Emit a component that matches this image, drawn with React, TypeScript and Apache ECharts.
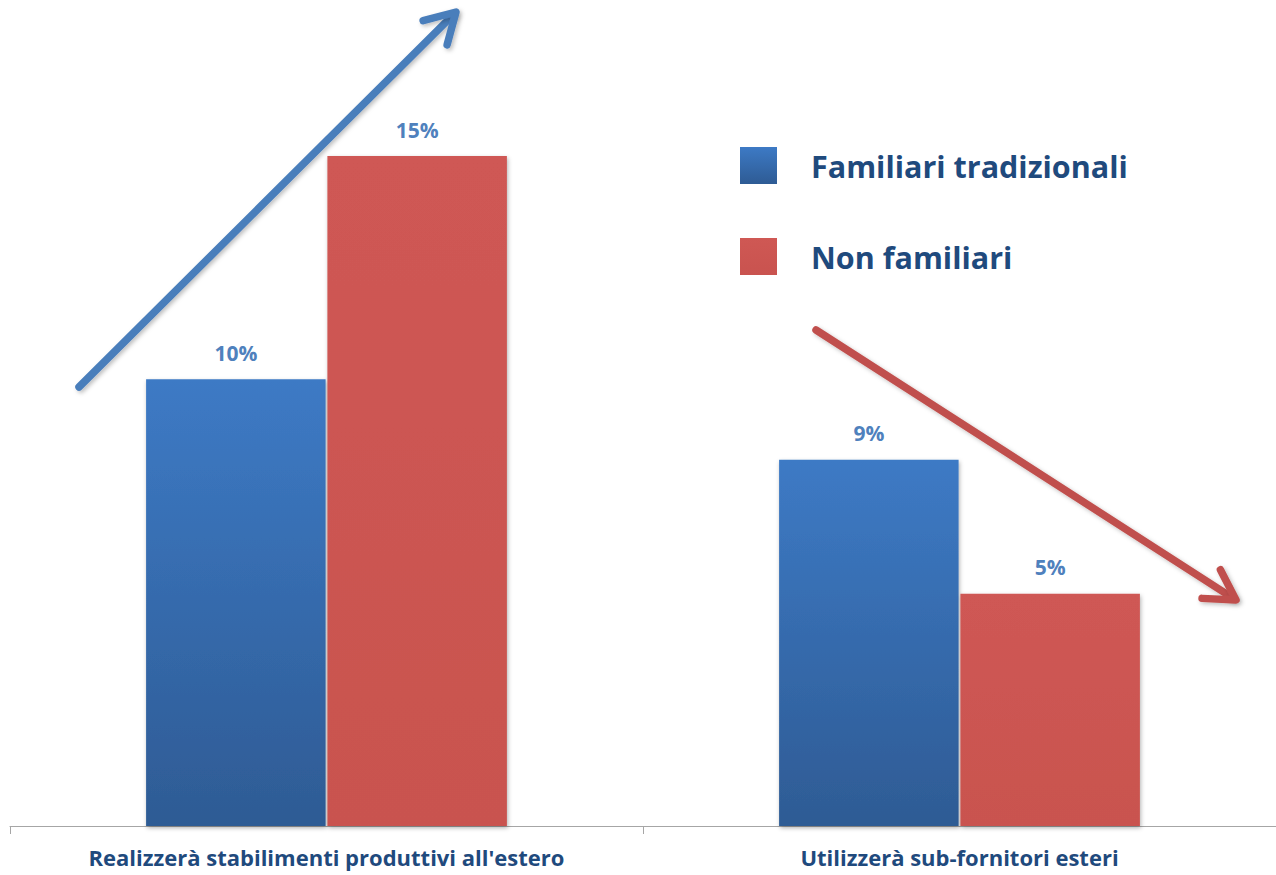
import React, { useEffect, useRef } from "react";
import * as echarts from "echarts";

const categories = ["Realizzerà stabilimenti produttivi all'estero", "Utilizzerà sub-fornitori esteri"];
const seriesNames = ["Familiari tradizionali", "Non familiari"];
const familiariValues = [10, 8.2];
const nonFamiliariValues = [15, 5.2];
const familiariLabels = ["10%", "9%"];
const nonFamiliariLabels = ["15%", "5%"];

function arrowGraphics(x1: number, y1: number, x2: number, y2: number, color: string) {
  const dx = x2 - x1;
  const dy = y2 - y1;
  const len = Math.sqrt(dx * dx + dy * dy);
  const ux = dx / len;
  const uy = dy / len;
  const headLen = 34;
  const ang = (30 * Math.PI) / 180;
  const rot = (a: number) => {
    const bx = -ux, by = -uy;
    return [bx * Math.cos(a) - by * Math.sin(a), bx * Math.sin(a) + by * Math.cos(a)];
  };
  const a1 = rot(ang);
  const a2 = rot(-ang);
  const style = { stroke: color, lineWidth: 7.5, lineCap: "round", lineJoin: "round", fill: null, shadowBlur: 4, shadowColor: "rgba(0,0,0,0.25)", shadowOffsetX: 2, shadowOffsetY: 2 };
  return [
    { type: "line", shape: { x1, y1, x2: x2 - ux * 4, y2: y2 - uy * 4 }, style, z: 10 },
    {
      type: "polyline",
      shape: { points: [[x2 + a1[0] * headLen, y2 + a1[1] * headLen], [x2, y2], [x2 + a2[0] * headLen, y2 + a2[1] * headLen]] },
      style,
      z: 10,
    },
  ];
}

export default function App() {
  const ref = useRef<HTMLDivElement>(null);
  useEffect(() => {
    if (!ref.current) return;
    const chart = echarts.init(ref.current, null, { renderer: "svg" });
    const font = "'Open Sans', Lato, sans-serif";
    const labelStyle = {
      show: true,
      position: "top",
      distance: 16,
      fontFamily: font,
      fontSize: 21,
      fontWeight: "bold",
      color: "#4f81bd",
    };
    chart.setOption({
      animation: false,
      backgroundColor: "#ffffff",
      grid: { left: 10, width: 1282, top: 156, bottom: 49, containLabel: false },
      legend: {
        orient: "vertical",
        left: 735,
        top: 142,
        itemWidth: 37,
        itemHeight: 37,
        itemGap: 54,
        icon: "rect",
        textStyle: { fontFamily: font, fontSize: 30.5, fontWeight: "bold", color: "#1f4a7d", padding: [0, 0, 0, 29] },
        data: seriesNames,
      },
      xAxis: {
        type: "category",
        data: categories,
        axisLine: { lineStyle: { color: "#a6a6a6", width: 1 } },
        axisTick: { show: true, length: 8, lineStyle: { color: "#a6a6a6" } },
        axisLabel: { fontFamily: font, fontSize: 22, fontWeight: "bold", color: "#1f4a7d", margin: 20, interval: 0 },
      },
      yAxis: { type: "value", min: 0, max: 15, show: false, splitLine: { show: false } },
      series: [
        {
          name: seriesNames[0],
          type: "bar",
          data: familiariValues,
          barCategoryGap: "43%",
          barGap: "1%",
          itemStyle: {
            color: new echarts.graphic.LinearGradient(0, 0, 0, 1, [
              { offset: 0, color: "#3d7ac5" },
              { offset: 1, color: "#2e5b94" },
            ]),
            shadowBlur: 4,
            shadowColor: "rgba(0,0,0,0.3)",
            shadowOffsetX: 1,
            shadowOffsetY: 2,
          },
          label: { ...labelStyle, formatter: (p: any) => familiariLabels[p.dataIndex] },
        },
        {
          name: seriesNames[1],
          type: "bar",
          data: nonFamiliariValues,
          barCategoryGap: "43%",
          barGap: "1%",
          itemStyle: {
            color: new echarts.graphic.LinearGradient(0, 0, 0, 1, [
              { offset: 0, color: "#cf5854" },
              { offset: 1, color: "#c9534f" },
            ]),
            shadowBlur: 4,
            shadowColor: "rgba(0,0,0,0.3)",
            shadowOffsetX: 1,
            shadowOffsetY: 2,
          },
          label: { ...labelStyle, formatter: (p: any) => nonFamiliariLabels[p.dataIndex] },
        },
      ],
      graphic: [
        ...arrowGraphics(79, 387, 456, 12, "#4a7ebb"),
        ...arrowGraphics(816, 330, 1236, 600, "#c0504d"),
      ],
    });
    return () => chart.dispose();
  }, []);
  return <div ref={ref} style={{ position: "fixed", left: 0, top: 0, width: 1276, height: 875 }} />;
}
